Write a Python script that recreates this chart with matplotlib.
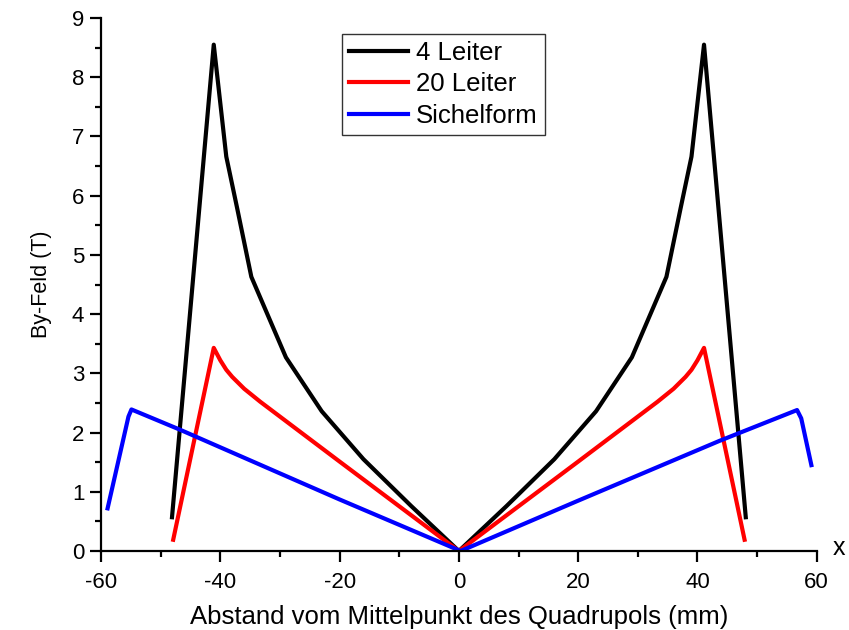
import matplotlib
matplotlib.use('Agg')
import matplotlib.pyplot as plt
from matplotlib.ticker import MultipleLocator

plt.rcParams['font.family'] = ['Liberation Sans', 'DejaVu Sans']
plt.rcParams['axes.unicode_minus'] = False

# 4 Leiter
x4 = [-48.1, -41.1, -39.0, -37.2, -34.8, -29.0, -23.0, -16.0, -8.0, 0.0,
      8.0, 16.0, 23.0, 29.0, 34.8, 37.2, 39.0, 41.1, 48.1]
y4 = [0.57, 8.55, 6.66, 5.8, 4.63, 3.27, 2.36, 1.55, 0.76, 0.0,
      0.76, 1.55, 2.36, 3.27, 4.63, 5.8, 6.66, 8.55, 0.57]

# 20 Leiter
x20 = [-47.9, -41.1, -40.0, -39.0, -38.0, -37.0, -36.0, -33.3, -20.0, 0.0,
       20.0, 33.3, 36.0, 37.0, 38.0, 39.0, 40.0, 41.1, 47.9]
y20 = [0.19, 3.43, 3.22, 3.06, 2.94, 2.84, 2.74, 2.52, 1.51, 0.0,
       1.51, 2.52, 2.74, 2.84, 2.94, 3.06, 3.22, 3.43, 0.19]

# Sichelform
xs = [-58.9, -55.4, -54.9, -46.8, -20.0, 0.3, 20.0, 43.7, 56.7, 57.4, 59.1]
ys = [0.72, 2.27, 2.39, 2.05, 0.87, 0.0, 0.85, 1.86, 2.38, 2.24, 1.45]

fig = plt.figure(figsize=(8.49, 6.30), dpi=100)
ax = fig.add_axes([0.119, 0.1254, 0.843, 0.846])

ax.plot(x4, y4, color='black', lw=3.0, label='4 Leiter')
ax.plot(x20, y20, color='#ff0000', lw=3.0, label='20 Leiter')
ax.plot(xs, ys, color='#0000ff', lw=3.0, label='Sichelform')

ax.set_xlim(-60, 60)
ax.set_ylim(0, 9)
ax.xaxis.set_major_locator(MultipleLocator(20))
ax.xaxis.set_minor_locator(MultipleLocator(10))
ax.yaxis.set_major_locator(MultipleLocator(1))
ax.yaxis.set_minor_locator(MultipleLocator(0.5))

for s in ['top', 'right']:
    ax.spines[s].set_visible(False)
for s in ['left', 'bottom']:
    ax.spines[s].set_linewidth(1.6)

ax.tick_params(which='major', direction='out', length=8, width=1.6,
               labelsize=16)
ax.tick_params(which='minor', direction='out', length=4.5, width=1.6)
ax.tick_params(axis='x', which='major', pad=7)
ax.tick_params(axis='y', which='major', pad=4)

ax.set_xlabel('Abstand vom Mittelpunkt des Quadrupols (mm)', fontsize=18.5,
              labelpad=9)
ax.set_ylabel('By-Feld (T)', fontsize=15.5, labelpad=14)
ax.text(1.022, 0.005, 'x', transform=ax.transAxes, fontsize=18,
        va='center', ha='left')

leg = ax.legend(loc='upper center', bbox_to_anchor=(0.478, 0.97),
                fontsize=18.5, frameon=True, fancybox=False,
                handlelength=2.3, handletextpad=0.3, borderpad=0.28,
                labelspacing=0.28, borderaxespad=0.0)
leg.get_frame().set_edgecolor('black')
leg.get_frame().set_linewidth(1.0)

fig.savefig('out.png', dpi=100)
